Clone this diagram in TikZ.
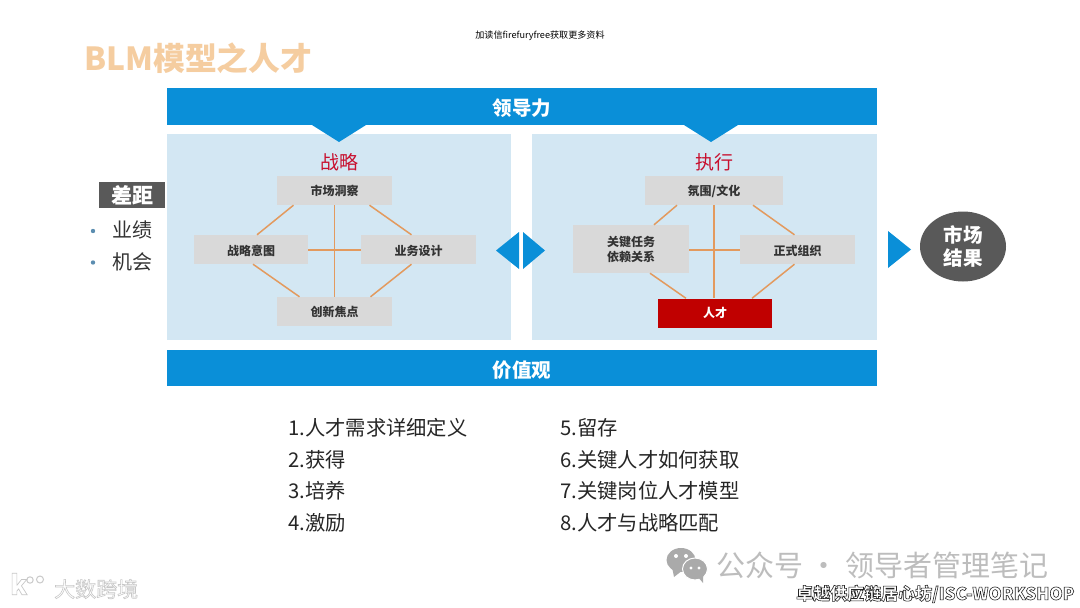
\documentclass[tikz,border=0pt]{standalone}
\usepackage{fontspec}
\setmainfont{Noto Sans CJK SC}
\usetikzlibrary{calc,shapes.geometric}
\definecolor{barblue}{HTML}{0A8FD8}
\definecolor{panelblue}{HTML}{D3E7F3}
\definecolor{boxgray}{HTML}{D9D9D9}
\definecolor{linkorange}{HTML}{E39A5E}
\definecolor{titleorange}{HTML}{F5CDA0}
\definecolor{darkgray}{HTML}{595959}
\definecolor{talentred}{HTML}{C00000}
\definecolor{headred}{HTML}{C8102E}
\definecolor{markgray}{HTML}{BDBDBD}
\definecolor{bulletblue}{HTML}{5B8DB0}
\newcommand{\lowered}[2]{\raisebox{-#1pt}[\height][\depth]{#2}}
\newcommand{\outlined}[2]{\special{pdf:code 1 Tr #1 w}#2\special{pdf:code 0 Tr 0.4 w}}
\tikzset{
  x=1pt,y=-1pt,
  bar/.style={fill=barblue,draw=none,minimum width=710pt,minimum height=37pt,inner sep=0pt,text=white,font=\bfseries\fontsize{19.5}{21}\selectfont},
  panel/.style={fill=panelblue,draw=none,minimum height=206pt,inner sep=0pt},
  unit/.style={fill=boxgray,draw=none,inner sep=0pt,minimum height=29pt,text=black!80,align=center,font=\bfseries\fontsize{12}{15}\selectfont},
  link/.style={draw=linkorange,line width=1.5pt},
  tri/.style={fill=barblue,draw=none},
  head/.style={text=headred,font=\fontsize{19}{21}\selectfont,inner sep=0pt},
  gaptext/.style={text=black!80,font=\fontsize{20}{22}\selectfont,inner sep=0pt,anchor=west},
  listtext/.style={text=black!85,font=\fontsize{20.3}{23}\selectfont,inner sep=0pt,anchor=west},
}
\begin{document}
\begin{tikzpicture}
\useasboundingbox (0,0) rectangle (1080,608);
\fill[white] (0,0) rectangle (1080,608);
% panels and bars
\node[panel,minimum width=344pt] (pl) at (339,237) {};
\node[panel,minimum width=345pt] (pr) at (704.5,237) {};
\node[bar] (lead) at (522,106.5) {\lowered{2}{领导力}};
\node[bar,minimum height=36pt] (val) at (522,368) {\lowered{2}{价值观}};
\fill[tri] (312,125) -- (366,125) -- (339,142) -- cycle;
\fill[tri] (684,125) -- (738,125) -- (711,142) -- cycle;
% title and top note
\node[anchor=west,inner sep=0pt,text=titleorange,font=\bfseries\fontsize{31.8}{34}\selectfont] (title) at (84,58) {BLM模型之人才};
\node[inner sep=0pt,text=black,font=\fontsize{9.1}{11}\selectfont] (note) at (540,35.5) {加读信firefuryfree获取更多资料};
% left diagram
\node[head] (hl) at (339,162) {战略};
\node[unit,minimum width=115pt] (mkt) at (334.5,190.5) {市场洞察};
\node[unit,minimum width=114pt] (int) at (251,249.5) {\lowered{1}{战略意图}};
\node[unit,minimum width=115pt] (biz) at (418.5,249.5) {\lowered{1}{业务设计}};
\node[unit,minimum width=115pt] (inn) at (334.5,311.5) {创新焦点};
\draw[link] ([xshift=-41pt]mkt.south) -- ([xshift=6pt]int.north);
\draw[link] ([xshift=35pt]mkt.south) -- ([xshift=-7pt]biz.north);
\draw[link] ([xshift=2pt]int.south) -- ([xshift=-35pt]inn.north);
\draw[link] ([xshift=-7pt]biz.south) -- ([xshift=36pt]inn.north);
\draw[link] (mkt.south) -- (inn.north);
\draw[link] ([yshift=-0.5pt]int.east) -- ([yshift=-0.5pt]biz.west);
% right diagram
\node[head] (hr) at (714,162) {执行};
\node[unit,minimum width=138pt] (cul) at (714,190.5) {\lowered{1}{氛围/文化}};
\node[unit,minimum width=116pt,minimum height=48pt] (key) at (631,249) {关键任务\\依赖关系};
\node[unit,minimum width=115pt] (org) at (797.5,249.5) {\lowered{1}{正式组织}};
\node[unit,fill=talentred,text=white,minimum width=114pt] (tal) at (715,313) {人才};
\draw[link] ([xshift=-37pt]cul.south) -- ([xshift=23pt]key.north);
\draw[link] ([xshift=39pt]cul.south) -- ([xshift=-3pt]org.north);
\draw[link] ([xshift=19pt]key.south) -- ([xshift=-29pt]tal.north);
\draw[link] ([xshift=-3pt]org.south) -- ([xshift=37pt]tal.north);
\draw[link] (cul.south) -- (cul.south |- tal.north);
\draw[link] ([yshift=-0.5pt]key.east |- org.west) -- ([yshift=-0.5pt]org.west);
% arrows
\fill[tri] (519,232) -- (519,269) -- (496,250.5) -- cycle;
\fill[tri] (523,232) -- (523,269) -- (545,250.5) -- cycle;
\fill[tri] (888,231) -- (888,268) -- (911,249.5) -- cycle;
\node[ellipse,fill=darkgray,minimum width=86pt,minimum height=70pt,inner sep=0pt,align=center,text=white,font=\bfseries\fontsize{19.5}{23}\selectfont] (res) at (963,246.5) {市场\\结果};
% gap
\node[fill=darkgray,minimum width=66pt,minimum height=26pt,inner sep=0pt,text=white,font=\bfseries\fontsize{21}{23}\selectfont] (gap) at (132,195) {差距};
\node[gaptext] (g1) at (112,230) {业绩};
\node[gaptext] (g2) at (112,262) {机会};
\fill[bulletblue] (93,231) circle (2.2pt) (93,262.5) circle (2.2pt);
% list
\node[listtext] (a1) at (288,428) {1.人才需求详细定义};
\node[listtext] (a2) at (288,460) {2.获得};
\node[listtext] (a3) at (288,491) {3.培养};
\node[listtext] (a4) at (288,523) {4.激励};
\node[listtext] (b1) at (560,428) {5.留存};
\node[listtext] (b2) at (560,460) {6.关键人才如何获取};
\node[listtext] (b3) at (560,491) {7.关键岗位人才模型};
\node[listtext] (b4) at (560,523) {8.人才与战略匹配};
% watermarks
\fill[markgray!90!black] (681,560) ellipse (14.5pt and 12pt);
\fill[markgray!90!black] (672,567) -- (674,577) -- (683,570) -- cycle;
\fill[white] (676,556) circle (2pt) (686,556) circle (2pt);
\fill[markgray!90!black,draw=white,line width=1pt] (695,569) ellipse (12.5pt and 11pt);
\fill[markgray!90!black] (698,577) -- (703,583) -- (703,574) -- cycle;
\fill[white] (691,568) circle (1.7pt) (699,568) circle (1.7pt);
\node[anchor=west,inner sep=0pt,text=markgray,font=\fontsize{29}{31}\selectfont] (wm) at (716,565.5) {公众号 · 领导者管理笔记};
\draw[markgray!80,line width=1pt] (30,580) circle (3.2pt) (40,579.5) circle (3.5pt);
\node[anchor=west,inner sep=0pt,text=markgray!85,font=\fontsize{21}{23}\selectfont] (wm3) at (54,589) {\outlined{0.6}{大数跨境}};
\node[anchor=west,inner sep=0pt,text=markgray!85,font=\bfseries\fontsize{27}{29}\selectfont] (wm4) at (10,584) {\outlined{0.7}{k}};
\node[anchor=west,inner sep=0pt,text=black!85,font=\bfseries\fontsize{17}{19}\selectfont] (wm2) at (796,594) {\outlined{0.6}{卓越供应链居心坊/ISC-WORKSHOP}};
\end{tikzpicture}
\end{document}
